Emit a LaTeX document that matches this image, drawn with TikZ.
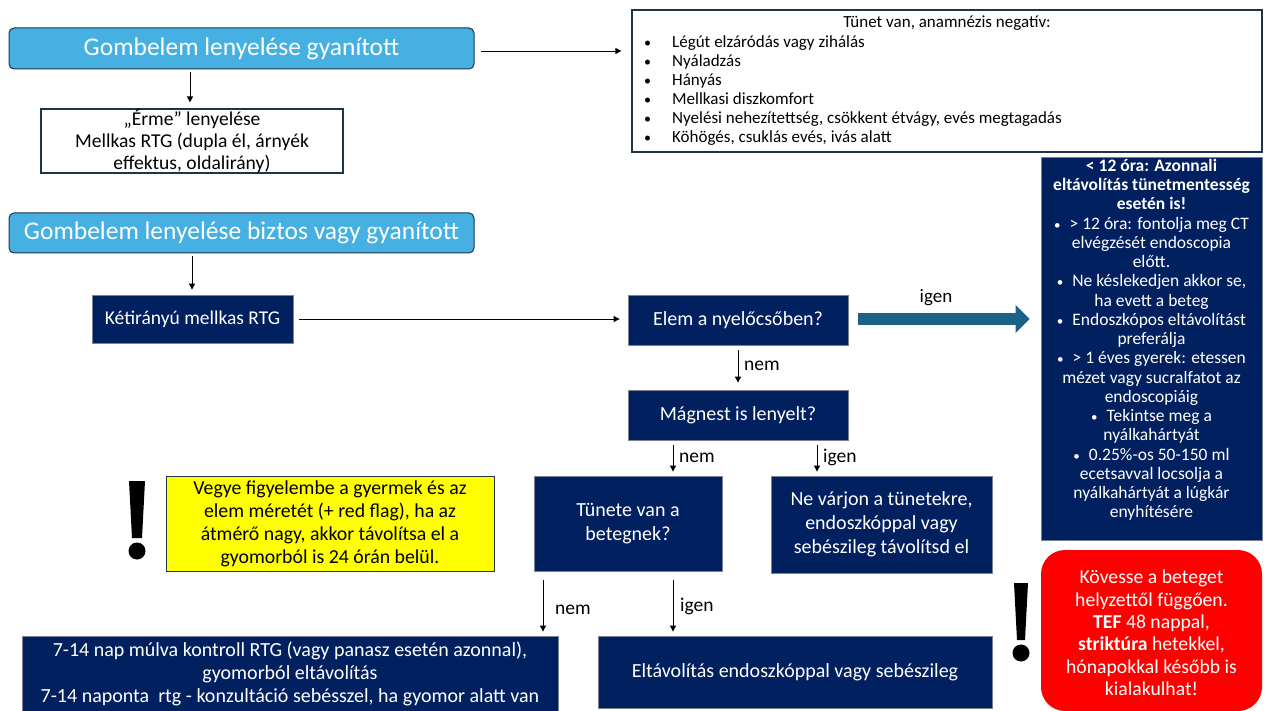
\documentclass[tikz,border=0pt]{standalone}
\usepackage{fontspec}
\setmainfont{Carlito}
\usetikzlibrary{arrows.meta,calc}
\definecolor{navy}{HTML}{002060}
\definecolor{skyfill}{HTML}{45B0E1}
\definecolor{edgecol}{HTML}{1E3448}
\definecolor{arrowblue}{HTML}{1B6286}
\definecolor{warnyellow}{HTML}{FFFF00}
\definecolor{alertred}{HTML}{FF0000}
\newcommand\setfs[2]{\fontsize{#1}{#2}\selectfont}
% bullet used inside the centred panel text
\newcommand\panelbullet{{\setfs{13}{19.25}•}\hspace{9pt}}
\tikzset{
  skybox/.style={draw=edgecol, line width=1pt, fill=skyfill, rounded corners=5pt,
    text=white, font=\setfs{25.5}{29}, inner sep=0pt},
  navybox/.style={draw=edgecol!60, line width=0.8pt, fill=navy, text=white,
    align=center, inner sep=0pt, font=\setfs{20}{24}},
  whitebox/.style={draw=edgecol, line width=1.2pt, fill=white, align=center,
    inner sep=0pt},
  listtext/.style={font=\setfs{17}{19}, inner sep=0pt},
  arr/.style={-{Triangle[length=6pt,width=6pt]}, line width=0.9pt},
  lbl/.style={font=\setfs{19.5}{22}, inner sep=0pt, anchor=west},
}
\begin{document}
\begin{tikzpicture}[x=1pt,y=-1pt]
\useasboundingbox (0,0) rectangle (1266,711);

% first block: suspected ingestion
\node[skybox, minimum width=465pt, minimum height=41pt] (g1) at (241.5,48.5)
  {Gombelem lenyelése gyanított};
\node[whitebox, minimum width=302pt, minimum height=64pt] (erme) at (192,141) {};
\node[align=center, font=\setfs{19.6}{22}, inner sep=0pt] (ermetext) at (192,141)
  {„Érme” lenyelése\\Mellkas RTG (dupla él, árnyék\\effektus, oldalirány)};
\draw[arr, shorten <=3pt, shorten >=6pt] ([xshift=-51.5pt]g1.south) -- ([xshift=-2pt]erme.north);

% symptom list
\node[whitebox, minimum width=630pt, minimum height=142pt] (tunet) at (947,81) {};
\node[listtext] (tunettitle) at (947,23) {Tünet van, anamnézis negatív:};
\foreach \t [count=\i] in {Légút elzáródás vagy zihálás, Nyáladzás, Hányás,
  Mellkasi diszkomfort, {Nyelési nehezítettség, csökkent étvágy, evés megtagadás},
  {Köhögés, csuklás evés, ivás alatt}}{
  \node[font=\setfs{14}{19}, inner sep=0pt, anchor=base west] (dot\i) at (644,29+19*\i) {•};
  \node[listtext, anchor=base west] (item\i) at (672,29+19*\i) {\t};
}
\draw[arr, shorten <=6pt, shorten >=10pt] ([yshift=-2.5pt]g1.east) -- ([yshift=-2.5pt]g1.east -| tunet.west);

% second block
\node[skybox, minimum width=465pt, minimum height=40pt] (g2) at (241.5,233)
  {Gombelem lenyelése biztos vagy gyanított};
\node[navybox, minimum width=201pt, minimum height=48pt, font=\setfs{19.5}{24}] (ketir) at (192.5,319)
  {Kétirányú mellkas RTG};
\draw[arr, shorten <=3pt, shorten >=5pt] ([xshift=-49.5pt]g2.south) -- ([xshift=-0.5pt]ketir.north);

\node[navybox, minimum width=220pt, minimum height=50pt] (elem) at (738,320)
  {Elem a nyelőcsőben?};
\draw[arr, shorten <=6pt, shorten >=8pt] (ketir.east) -- (ketir.east -| elem.west);

% urgent removal panel
\node[navybox, minimum width=221pt, minimum height=383pt] (urgent) at (1151.5,348.5) {};
\node[align=center, text=white, font=\setfs{17.5}{19.25}, inner sep=0pt] (urgenttext) at (1151.5,340)
  {\textbf{< 12 óra: Azonnali}\\
   \textbf{eltávolítás tünetmentesség}\\
   \textbf{esetén is!}\\
   \panelbullet > 12 óra: fontolja meg CT\\
   elvégzését endoscopia\\
   előtt.\\
   \panelbullet Ne késlekedjen akkor se,\\
   ha evett a beteg\\
   \panelbullet Endoszkópos eltávolítást\\
   preferálja\\
   \panelbullet > 1 éves gyerek: etessen\\
   mézet vagy sucralfatot az\\
   endoscopiáig\\
   \panelbullet Tekintse meg a\\
   nyálkahártyát\\
   \panelbullet 0.25\%-os 50-150 ml\\
   ecetsavval locsolja a\\
   nyálkahártyát a lúgkár\\
   enyhítésére};

% broad arrow to the panel
\draw[arrowblue, line width=12pt, -{Triangle[length=14pt,width=27pt]}]
  ([xshift=10pt,yshift=1pt]elem.east) -- ([xshift=-11pt,yshift=1pt]elem.east -| urgent.west);
\node[font=\setfs{19}{22}, inner sep=0pt] (igen0) at (936,298) {igen};

\node[navybox, minimum width=220pt, minimum height=50pt] (magnes) at (738,415)
  {Mágnest is lenyelt?};
\draw[arr, shorten <=5pt, shorten >=7pt] (elem.south) -- (magnes.north);
\node[lbl] (nem1) at (744,366) {nem};

\node[navybox, minimum width=188pt, minimum height=95pt] (tunete) at (628,523.5)
  {Tünete van a\\betegnek?};
\node[navybox, minimum width=221pt, minimum height=97pt] (nevarj) at (881.5,524.5)
  {Ne várjon a tünetekre,\\endoszkóppal vagy\\sebészileg távolítsd el};
\draw[arr, shorten <=5pt, shorten >=4pt] ([xshift=-65pt]magnes.south) -- ([xshift=45pt]tunete.north);
\node[lbl] (nem2) at (679,458) {nem};
\draw[arr, shorten <=5pt, shorten >=4pt] ([xshift=79pt]magnes.south) -- ([xshift=-64.5pt]nevarj.north);
\node[lbl] (igen1) at (823,457) {igen};

% size warning
\node[draw=edgecol, line width=1pt, fill=warnyellow, minimum width=328pt, minimum height=95pt,
  align=center, inner sep=0pt, font=\setfs{19.8}{23}] (warn) at (330,523.5)
  {Vegye figyelembe a gyermek és az\\elem méretét (+ red flag), ha az\\átmérő nagy, akkor távolítsa el a\\gyomorból is 24 órán belül.};
\fill (129,481) -- (145,481) -- (142,538) -- (132,538) -- cycle;
\fill (137,551) circle (8.5);

% outcomes
\node[navybox, minimum width=536pt, minimum height=75pt, font=\setfs{20}{23}] (control) at (290,673.5)
  {7-14 nap múlva kontroll RTG (vagy panasz esetén azonnal),\\gyomorból eltávolítás\\7-14 naponta\ \ rtg - konzultáció sebésszel, ha gyomor alatt van};
\node[navybox, minimum width=394pt, minimum height=72pt] (removal) at (795,672)
  {Eltávolítás endoszkóppal vagy sebészileg};
\draw[arr, shorten <=9pt, shorten >=4pt] ([xshift=-85pt]tunete.south) -- ([xshift=253pt]control.north);
\node[lbl] (nem3) at (555,610) {nem};
\draw[arr, shorten <=9pt, shorten >=4pt] ([xshift=45pt]tunete.south) -- ([xshift=-122pt]removal.north);
\node[lbl] (igen2) at (680,606) {igen};

% follow-up alert
\node[fill=alertred, rounded corners=24pt, minimum width=221pt, minimum height=161pt,
  inner sep=0pt] (alert) at (1151.5,630.5) {};
\node[align=center, text=white, font=\setfs{19.7}{22.4}, inner sep=0pt] (alerttext) at (1151.5,633)
  {Kövesse a beteget\\helyzettől függően.\\\textbf{TEF} 48 nappal,\\\textbf{striktúra} hetekkel,\\hónapokkal később is\\kialakulhat!};
\fill (1014,583) -- (1028,583) -- (1025,640) -- (1017,640) -- cycle;
\fill (1021,653) circle (8.5);
\end{tikzpicture}
\end{document}
